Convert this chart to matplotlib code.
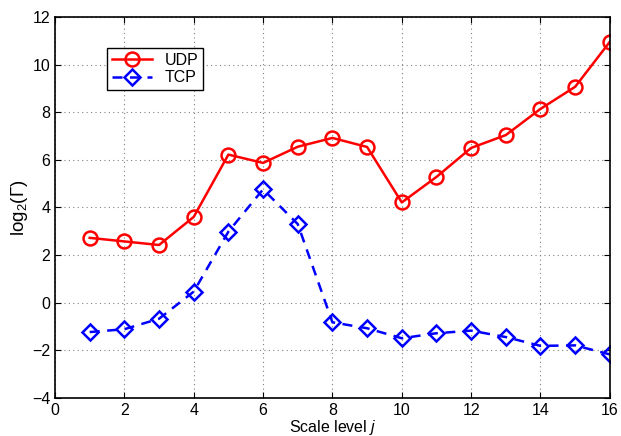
import matplotlib
matplotlib.use('Agg')
import matplotlib.pyplot as plt

plt.rcParams['font.family'] = ['Liberation Sans', 'DejaVu Sans']
plt.rcParams['mathtext.fontset'] = 'custom'
plt.rcParams['mathtext.rm'] = 'Liberation Sans'
plt.rcParams['mathtext.it'] = 'Liberation Sans:italic'

scale = list(range(1, 17))
udp = [2.72, 2.57, 2.42, 3.6, 6.22, 5.87, 6.55, 6.92, 6.54, 4.21, 5.28, 6.5,
       7.04, 8.14, 9.07, 10.96]
tcp = [-1.24, -1.12, -0.68, 0.46, 2.98, 4.76, 3.3, -0.83, -1.08, -1.5, -1.29,
       -1.18, -1.45, -1.82, -1.8, -2.18]

fig = plt.figure(figsize=(6.21, 4.36), dpi=100)
ax = fig.add_axes([0.0886, 0.0878, 0.8934, 0.873])

ax.plot(scale, udp, '-o', color='red', lw=1.8, ms=10, mfc='none', mew=1.8,
        label='UDP')
ax.plot(scale, tcp, '--D', color='blue', lw=1.8, ms=8, mfc='none', mew=1.8,
        label='TCP', dashes=(4, 3))

ax.set_xlim(0, 16)
ax.set_ylim(-4, 12)
ax.set_xticks(range(0, 17, 2))
ax.set_yticks(range(-4, 13, 2))
ax.set_yticklabels([str(v).replace('-', '\u2212') for v in range(-4, 13, 2)])
ax.tick_params(direction='in', labelsize=11.5, top=True, right=True, length=4)
ax.grid(True, color='gray', linestyle=(0, (1, 3)), linewidth=0.8)
for s in ax.spines.values():
    s.set_linewidth(1.2)

ax.set_xlabel('Scale level $j$', fontsize=11.5, labelpad=0)
ax.set_ylabel(r'$\mathrm{log}_2(\Gamma)$', fontsize=13.5, labelpad=1)

leg = ax.legend(loc='upper left', bbox_to_anchor=(0.08, 0.94), fontsize=11.5,
                fancybox=False, framealpha=1, edgecolor='black',
                handlelength=2.5, borderpad=0.3, labelspacing=0.15)
leg.get_frame().set_linewidth(1.0)

plt.savefig('out.png', dpi=100)
